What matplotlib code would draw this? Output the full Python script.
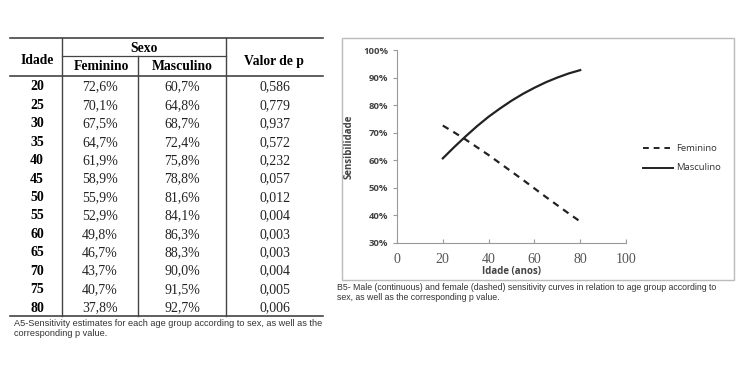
import matplotlib.pyplot as plt
from matplotlib.lines import Line2D
from matplotlib.patches import Rectangle

# dados
idade = [20, 25, 30, 35, 40, 45, 50, 55, 60, 65, 70, 75, 80]
feminino = [72.6, 70.1, 67.5, 64.7, 61.9, 58.9, 55.9, 52.9, 49.8, 46.7, 43.7, 40.7, 37.8]
masculino = [60.7, 64.8, 68.7, 72.4, 75.8, 78.8, 81.6, 84.1, 86.3, 88.3, 90.0, 91.5, 92.7]
valor_p = ['0,586', '0,779', '0,937', '0,572', '0,232', '0,057', '0,012',
           '0,004', '0,003', '0,003', '0,004', '0,005', '0,006']

W, H = 750, 375
fig = plt.figure(figsize=(7.5, 3.75), dpi=100)

def fx(x):
    return x / W

def fy(y):
    return 1 - y / H

def hline(x0, x1, y, lw=1.2, c='#444444'):
    fig.add_artist(Line2D([fx(x0), fx(x1)], [fy(y), fy(y)], lw=lw, color=c))

def vline(x, y0, y1, lw=1.0, c='#444444'):
    fig.add_artist(Line2D([fx(x), fx(x)], [fy(y0), fy(y1)], lw=lw, color=c))

serif = 'Liberation Serif'

# ---- Tabela A5 ----
hline(10, 323, 38)
hline(62, 226, 56, lw=0.9)
hline(10, 323, 76)
hline(10, 323, 316)
vline(62, 38, 316)
vline(138, 56, 316)
vline(226, 38, 316)

hdr = dict(family=serif, weight='bold', fontsize=9.8, ha='center', va='center')
fig.text(fx(37), fy(60), 'Idade', **hdr)
fig.text(fx(144), fy(48), 'Sexo', **hdr)
fig.text(fx(101), fy(67), 'Feminino', **hdr)
fig.text(fx(182), fy(67), 'Masculino', **hdr)
fig.text(fx(274), fy(62), 'Valor de p', **hdr)

row_y0, row_dy = 87, (308 - 87) / 12
for i, a in enumerate(idade):
    y = row_y0 + i * row_dy
    fig.text(fx(37), fy(y), str(a), family=serif, weight='bold', fontsize=10, ha='center', va='center')
    fig.text(fx(100), fy(y), f'{feminino[i]:.1f}%'.replace('.', ','), family=serif, fontsize=10,
             ha='center', va='center', color='#222222')
    fig.text(fx(182), fy(y), f'{masculino[i]:.1f}%'.replace('.', ','), family=serif, fontsize=10,
             ha='center', va='center', color='#222222')
    fig.text(fx(275), fy(y), valor_p[i], family=serif, fontsize=10, ha='center', va='center', color='#222222')

fig.text(fx(14), fy(323), 'A5-Sensitivity estimates for each age group according to sex, as well as the',
         family='Liberation Sans', fontsize=6.6, ha='left', va='center', color='#333333')
fig.text(fx(14), fy(334), 'corresponding p value.',
         family='Liberation Sans', fontsize=6.6, ha='left', va='center', color='#333333')

# ---- Gráfico B5 ----
fig.add_artist(Rectangle((fx(342), fy(280)), fx(734 - 342), (280 - 38) / H,
                         fill=False, ec='#bbbbbb', lw=1.0))

ax = fig.add_axes([fx(397), fy(243), fx(626 - 397), (243 - 50) / H])
ax.plot(idade, feminino, color='#222222', lw=1.6, ls=(0, (3, 2.5)))
ax.plot(idade, masculino, color='#222222', lw=1.6)
ax.set_xlim(0, 100)
ax.set_ylim(30, 100)
ax.set_xticks(range(0, 101, 20))
ax.set_yticks(range(30, 101, 10))
ax.set_yticklabels([f'{v}%' for v in range(30, 101, 10)])
for s in ['top', 'right']:
    ax.spines[s].set_visible(False)
for s in ['left', 'bottom']:
    ax.spines[s].set_color('#999999')
ax.tick_params(axis='y', colors='#999999', labelcolor='#444444', labelsize=6.8, length=3, direction='out')
ax.tick_params(axis='x', colors='#999999', labelcolor='#555555', labelsize=10, length=3, direction='in', pad=7)
for lbl in ax.get_yticklabels():
    lbl.set_family('Open Sans')
    lbl.set_weight('bold')
for lbl in ax.get_xticklabels():
    lbl.set_family(serif)
ax.set_xlabel('Idade (anos)', family='Open Sans', weight='bold', fontsize=7, color='#444444', labelpad=0.5)
ax.set_ylabel('Sensibilidade', family='Open Sans', weight='bold', fontsize=7, color='#444444', labelpad=6)

# legenda manual
fig.add_artist(Line2D([fx(643), fx(670)], [fy(148), fy(148)], color='#222222', lw=1.4, ls=(0, (3, 2.5))))
fig.add_artist(Line2D([fx(643), fx(673)], [fy(168), fy(168)], color='#222222', lw=1.4))
fig.text(fx(676), fy(148), 'Feminino', family='Open Sans', fontsize=6.8, color='#333333', ha='left', va='center')
fig.text(fx(676), fy(168), 'Masculino', family='Open Sans', fontsize=6.8, color='#333333', ha='left', va='center')

fig.text(fx(337), fy(287), 'B5- Male (continuous) and female (dashed) sensitivity curves in relation to age group according to',
         family='Liberation Sans', fontsize=6.3, ha='left', va='center', color='#333333')
fig.text(fx(337), fy(298), 'sex, as well as the corresponding p value.',
         family='Liberation Sans', fontsize=6.3, ha='left', va='center', color='#333333')

fig.savefig('out.png', dpi=100)
